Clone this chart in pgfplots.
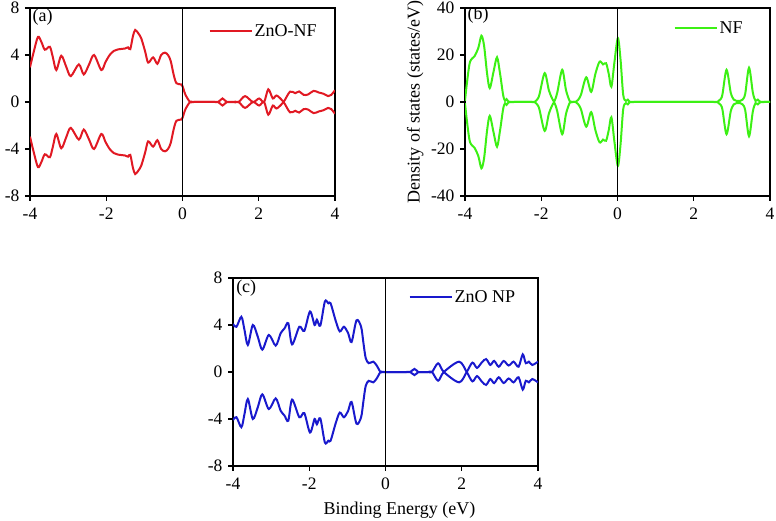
\documentclass[border=0pt]{standalone}
\usepackage{fontspec}
\setmainfont{Liberation Serif}
\usepackage{pgfplots}
\usepackage{pgfplotstable}
\pgfplotsset{compat=1.18}

\definecolor{cred}{RGB}{225,25,35}
\definecolor{cgreen}{RGB}{60,240,20}
\definecolor{cblue}{RGB}{25,25,205}

% Panel (a): ZnO-NF  (x, spin up, spin down)
\pgfplotstableread{
x up dn
-4.00 2.95 -2.95
-3.90 4.30 -4.30
-3.79 5.55 -5.55
-3.70 5.10 -5.10
-3.61 4.45 -4.45
-3.48 4.70 -4.70
-3.40 3.80 -3.80
-3.31 2.72 -2.72
-3.18 3.94 -3.94
-3.05 3.00 -3.00
-2.93 2.20 -2.20
-2.72 3.20 -3.20
-2.59 2.35 -2.35
-2.45 3.20 -3.20
-2.32 4.00 -4.00
-2.13 2.72 -2.72
-2.02 3.40 -3.40
-1.91 4.00 -4.00
-1.80 4.35 -4.35
-1.69 4.48 -4.48
-1.51 4.55 -4.55
-1.43 4.65 -4.65
-1.37 4.50 -4.50
-1.30 5.60 -5.60
-1.24 6.13 -6.13
-1.15 5.80 -5.80
-1.08 5.40 -5.40
-0.98 4.30 -4.30
-0.90 3.35 -3.35
-0.77 3.80 -3.80
-0.66 3.25 -3.25
-0.56 4.00 -4.00
-0.46 4.20 -4.20
-0.38 4.00 -4.00
-0.31 3.50 -3.50
-0.23 2.30 -2.30
-0.16 1.60 -1.60
-0.04 1.50 -1.50
0.00 1.35 -1.35
0.08 0.60 -0.60
0.20 0.00 0.00
0.30 0.00 0.00
0.85 0.00 0.00
0.94 0.00 0.00
1.05 0.30 -0.30
1.16 0.00 0.00
1.30 0.00 0.00
1.47 0.00 0.00
1.64 0.50 -0.50
1.85 0.00 0.00
2.01 0.30 -0.30
2.14 0.00 0.00
2.25 1.08 -1.08
2.37 0.30 -0.30
2.47 0.55 -0.55
2.65 0.00 0.00
2.82 -0.88 0.88
2.96 -0.75 0.75
3.06 -0.90 0.90
3.18 -0.60 0.60
3.30 -0.65 0.65
3.44 -0.95 0.95
3.58 -0.80 0.80
3.70 -0.70 0.70
3.82 -0.50 0.50
3.90 -0.60 0.60
4.00 -1.00 1.00
}\tableA

% Panel (b): NF
\pgfplotstableread{
x up dn
-4.00 0.5 -0.5
-3.95 8.0 -8.0
-3.87 17.0 -17.0
-3.75 19.5 -19.5
-3.65 23.0 -23.0
-3.57 28.2 -28.2
-3.50 24.0 -24.0
-3.42 12.0 -12.0
-3.35 5.9 -5.9
-3.25 13.0 -13.0
-3.16 19.0 -19.0
-3.08 12.0 -12.0
-3.00 3.0 -3.0
-2.95 0.5 -0.5
-2.91 1.2 -1.2
-2.86 0.2 -0.2
-2.80 0.0 0.0
-2.70 0.0 0.0
-2.25 0.0 0.0
-2.18 0.0 0.0
-2.11 1.0 -1.0
-2.05 3.0 -3.0
-1.91 12.3 -12.3
-1.80 5.0 -5.0
-1.70 1.0 -1.0
-1.65 0.5 -0.5
-1.58 4.0 -4.0
-1.45 13.7 -13.7
-1.35 5.0 -5.0
-1.25 0.3 -0.3
-1.17 0.0 0.0
-1.10 0.0 0.0
-1.04 0.8 -0.8
-0.96 3.0 -3.0
-0.82 10.5 -10.5
-0.69 4.3 -4.3
-0.58 12.0 -12.0
-0.47 17.2 -17.2
-0.38 16.0 -16.0
-0.30 16.5 -16.5
-0.23 12.0 -12.0
-0.16 6.5 -6.5
-0.08 17.0 -17.0
0.01 27.2 -27.2
0.08 18.0 -18.0
0.15 3.0 -3.0
0.22 0.5 -0.5
0.27 1.0 -1.0
0.33 0.0 0.0
0.45 0.0 0.0
2.50 0.0 0.0
2.62 0.0 0.0
2.69 1.0 -1.0
2.75 3.0 -3.0
2.86 13.7 -13.7
2.97 4.0 -4.0
3.05 1.0 -1.0
3.12 0.5 -0.5
3.22 0.5 -0.5
3.28 1.0 -1.0
3.35 3.5 -3.5
3.45 14.6 -14.6
3.55 4.0 -4.0
3.62 0.5 -0.5
3.68 1.0 -1.0
3.75 0.0 0.0
3.85 0.0 0.0
4.00 0.0 0.0
}\tableB

% Panel (c): ZnO NP
\pgfplotstableread{
x up dn
-4.00 4.10 -4.10
-3.91 3.85 -3.85
-3.78 4.70 -4.70
-3.70 3.60 -3.60
-3.61 2.30 -2.30
-3.48 4.00 -4.00
-3.35 3.00 -3.00
-3.23 1.90 -1.90
-3.06 3.15 -3.15
-2.88 2.25 -2.25
-2.75 3.30 -3.30
-2.65 3.70 -3.70
-2.55 4.15 -4.15
-2.45 2.35 -2.35
-2.26 3.85 -3.85
-2.13 3.50 -3.50
-1.98 5.15 -5.15
-1.86 4.00 -4.00
-1.80 4.45 -4.45
-1.71 3.95 -3.95
-1.59 6.00 -6.00
-1.50 5.85 -5.85
-1.44 5.85 -5.85
-1.31 4.40 -4.40
-1.20 3.45 -3.45
-1.09 3.85 -3.85
-0.98 3.30 -3.30
-0.89 2.55 -2.55
-0.76 4.40 -4.40
-0.64 3.85 -3.85
-0.58 2.50 -2.50
-0.52 1.20 -1.20
-0.44 0.75 -0.75
-0.32 0.88 -0.88
-0.22 0.50 -0.50
-0.13 0.00 0.00
-0.03 0.00 0.00
0.55 0.00 0.00
0.65 0.00 0.00
0.76 0.26 -0.26
0.86 0.00 0.00
0.95 0.00 0.00
1.12 0.00 0.00
1.22 0.00 0.00
1.38 0.74 -0.74
1.53 0.00 0.00
1.93 -0.88 0.88
2.13 0.00 0.00
2.28 0.80 -0.80
2.40 0.35 -0.35
2.53 0.83 -0.83
2.64 1.10 -1.10
2.75 0.60 -0.60
2.85 0.95 -0.95
2.97 0.45 -0.45
3.10 0.94 -0.94
3.23 0.55 -0.55
3.36 0.88 -0.88
3.49 0.45 -0.45
3.60 1.50 -1.50
3.68 0.75 -0.75
3.76 0.88 -0.88
3.85 0.60 -0.60
4.00 0.88 -0.88
}\tableC

\pgfplotsset{
  longleg/.style={legend image code/.code={\draw[##1] (0pt,0pt) -- (42pt,0pt);}},
  dosaxis/.style={
    scale only axis,
    width=305pt, height=188pt,
    xmin=-4, xmax=4,
    xtick={-4,-2,0,2,4},
    tick align=outside,
    tick pos=left,
    major tick length=5pt,
    axis line style={black, line width=1.4pt},
    every tick/.style={black, line width=1.4pt},
    tick label style={font=\fontsize{17.5}{20}\selectfont},
    /pgf/number format/assume math mode=true,
    xticklabel style={yshift=-3pt},
    yticklabel style={xshift=-2pt},
    legend style={draw=none, fill=none, inner sep=0pt,
      font=\fontsize{18}{21}\selectfont},
    legend cell align=left,
  },
}

\begin{document}
\begin{tikzpicture}
\useasboundingbox (0pt,0pt) rectangle (776pt,521pt);

% (a)
\begin{axis}[dosaxis, at={(30pt,325pt)}, anchor=south west,
  ymin=-8, ymax=8, ytick={-8,-4,0,4,8},
  legend style={at={(axis description cs:0.585,0.878)}, anchor=west}]
\addplot[cred, line width=2pt, smooth, longleg] table[x=x, y=up] {\tableA};
\addlegendentry{ZnO-NF}
\addplot[cred, line width=2pt, smooth, forget plot] table[x=x, y=dn] {\tableA};
\draw[black, line width=1.6pt] (axis cs:0,-8) -- (axis cs:0,8);
\node[anchor=west, inner sep=0pt, font=\fontsize{18}{21}\selectfont] at (axis description cs:0.008,0.952) {(a)};
\end{axis}

% (b)
\begin{axis}[dosaxis, at={(465pt,325pt)}, anchor=south west,
  ymin=-40, ymax=40, ytick={-40,-20,0,20,40},
  ylabel={Density of states (states/eV)},
  ylabel style={font=\fontsize{18}{21}\selectfont, at={(axis description cs:-0.163,0.5)}, anchor=center},
  legend style={at={(axis description cs:0.683,0.894)}, anchor=west}]
\addplot[cgreen, line width=2pt, smooth, longleg] table[x=x, y=up] {\tableB};
\addlegendentry{NF}
\addplot[cgreen, line width=2pt, smooth, forget plot] table[x=x, y=dn] {\tableB};
\draw[black, line width=1.6pt] (axis cs:0,-40) -- (axis cs:0,40);
\node[anchor=west, inner sep=0pt, font=\fontsize{18}{21}\selectfont] at (axis description cs:0.008,0.963) {(b)};
\end{axis}

% (c)
\begin{axis}[dosaxis, at={(233pt,55pt)}, anchor=south west,
  ymin=-8, ymax=8, ytick={-8,-4,0,4,8},
  xlabel={Binding Energy (eV)},
  xlabel style={font=\fontsize{18}{21}\selectfont, at={(axis description cs:0.546,-0.234)}, anchor=center},
  legend style={at={(axis description cs:0.575,0.899)}, anchor=west}]
\addplot[cblue, line width=2pt, smooth, longleg] table[x=x, y=up] {\tableC};
\addlegendentry{ZnO NP}
\addplot[cblue, line width=2pt, smooth, forget plot] table[x=x, y=dn] {\tableC};
\draw[black, line width=1.6pt] (axis cs:0,-8) -- (axis cs:0,8);
\node[anchor=west, inner sep=0pt, font=\fontsize{18}{21}\selectfont] at (axis description cs:0.01,0.945) {(c)};
\end{axis}
\end{tikzpicture}
\end{document}
